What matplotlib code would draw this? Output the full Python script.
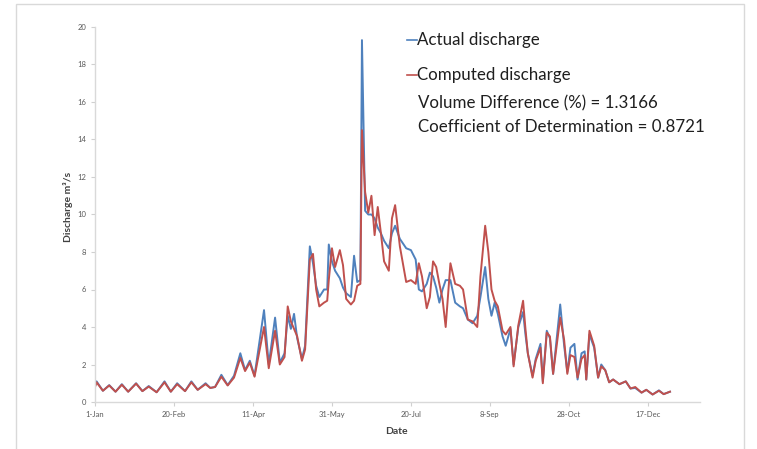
import matplotlib
matplotlib.use('Agg')
import matplotlib.pyplot as plt
from matplotlib.patches import Rectangle

plt.rcParams['font.family'] = ['Lato', 'DejaVu Sans']

# day of year (0 = 1-Jan), actual and computed discharge (m3/s)
days = [0, 1, 5, 9, 13, 17, 21, 26, 30, 34, 39, 44, 48, 52, 57, 61, 65, 70, 73, 76,
        80, 84, 88, 92, 95, 98, 101, 107, 110, 114, 117, 120, 122, 124, 126, 128, 131, 133,
        136, 138, 140, 142, 145, 147, 148, 150, 152, 155, 157, 159, 162, 164, 166, 168,
        169, 171, 173, 175, 177, 179, 181, 183, 186, 188, 190, 193, 197, 200, 203, 205,
        207, 210, 212, 214, 216, 218, 220, 222, 225, 228, 231, 233, 236, 239, 242, 244,
        247, 249, 251, 253, 255, 258, 260, 263, 265, 268, 271, 272.5, 274, 277, 279, 282,
        283.5, 286, 288, 290, 294.5, 297, 299, 301, 303.5, 305.5, 308, 310, 311, 313, 316,
        318.5, 320.5, 323, 325.5, 328, 332, 336, 339, 342, 346, 349, 353, 357, 360, 364]
actual = [0.85, 1.10, 0.60, 0.90, 0.55, 0.95, 0.55, 1.00, 0.58, 0.85, 0.52, 1.10, 0.55, 1.00,
          0.58, 1.10, 0.65, 1.00, 0.75, 0.80, 1.45, 0.90, 1.40, 2.60, 1.70, 2.20, 1.40, 4.90,
          2.00, 4.50, 2.10, 2.60, 4.60, 3.90, 4.70, 3.40, 2.30, 3.00, 8.30, 7.40, 6.20, 5.60,
          6.00, 6.00, 8.40, 7.50, 7.00, 6.60, 6.10, 5.80, 5.60, 7.80, 6.40, 6.50, 19.3, 10.2,
          10.0, 10.0, 9.80, 9.30, 9.00, 8.60, 8.20, 9.00, 9.40, 8.70, 8.20, 8.10, 7.60, 6.00,
          5.90, 6.30, 6.90, 6.70, 6.10, 5.30, 6.00, 6.50, 6.50, 5.30, 5.10, 5.00, 4.40, 4.20,
          4.60, 5.60, 7.20, 5.50, 4.60, 5.30, 4.70, 3.50, 3.00, 3.90, 2.00, 4.00, 4.80, 3.60,
          2.60, 1.40, 2.30, 3.10, 1.10, 3.80, 3.40, 1.50, 5.20, 3.00, 1.60, 2.90, 3.10, 1.20,
          2.60, 2.70, 1.20, 3.60, 2.90, 1.30, 2.00, 1.70, 1.05, 1.20, 0.95, 1.10, 0.72, 0.75,
          0.50, 0.65, 0.40, 0.62, 0.42, 0.55]
computed = [0.80, 1.05, 0.60, 0.88, 0.55, 0.92, 0.55, 0.98, 0.58, 0.82, 0.52, 1.05, 0.55, 0.95,
            0.58, 1.05, 0.65, 0.95, 0.75, 0.80, 1.35, 0.88, 1.30, 2.35, 1.65, 2.10, 1.35, 4.00,
            1.80, 3.80, 2.00, 2.40, 5.10, 4.30, 3.90, 3.50, 2.20, 2.80, 7.60, 7.90, 6.00, 5.10,
            5.30, 5.40, 6.50, 8.20, 7.20, 8.10, 7.30, 5.50, 5.20, 5.40, 6.20, 6.30, 14.5, 11.2,
            10.1, 11.0, 8.90, 10.4, 9.00, 7.50, 7.00, 9.80, 10.5, 8.30, 6.40, 6.50, 6.30, 7.40,
            6.70, 5.00, 5.60, 7.50, 7.20, 6.30, 5.50, 4.00, 7.40, 6.30, 6.20, 6.00, 4.40, 4.30,
            4.00, 6.70, 9.40, 8.00, 6.00, 5.40, 5.10, 3.80, 3.60, 4.00, 1.90, 4.10, 5.40, 3.90,
            2.60, 1.30, 2.20, 2.90, 1.00, 3.70, 3.50, 1.50, 4.50, 3.30, 1.50, 2.50, 2.40, 1.30,
            2.30, 2.50, 1.20, 3.80, 3.00, 1.30, 1.90, 1.70, 1.05, 1.20, 0.95, 1.10, 0.72, 0.80,
            0.50, 0.65, 0.40, 0.60, 0.42, 0.55]

tick_days = [0, 50, 100, 150, 200, 250, 300, 350]
tick_labels = ['1-Jan', '20-Feb', '11-Apr', '31-May', '20-Jul', '8-Sep', '28-Oct', '17-Dec']

fig = plt.figure(figsize=(7.57, 4.49), dpi=100)
fig.patches.append(Rectangle((16 / 757, -0.05), 728 / 757, 1.04, transform=fig.transFigure,
                             fill=False, edgecolor='#d9d9d9', linewidth=1.0))
ax = fig.add_axes([95 / 757, 47 / 449, 605 / 757, 375 / 449])

ax.plot(days, actual, color='#4f81bd', linewidth=1.4, label='Actual discharge')
ax.plot(days, computed, color='#c0504d', linewidth=1.4, label='Computed discharge')

ax.set_xlim(0, 383)
ax.set_ylim(0, 20)
ax.set_yticks(range(0, 21, 2))
ax.set_xticks(tick_days)
ax.set_xticklabels(tick_labels)
ax.tick_params(axis='both', labelsize=5.5, colors='#d0d0d0', labelcolor='#595959',
               length=3, width=0.8, direction='out')
for s in ['top', 'right']:
    ax.spines[s].set_visible(False)
for s in ['left', 'bottom']:
    ax.spines[s].set_color('#d9d9d9')
    ax.spines[s].set_linewidth(1.0)

fig.text(68 / 757, 1 - 207 / 449, 'Discharge m³/s', rotation=90, ha='center', va='center',
         fontsize=7.5, fontweight='bold', color='#404040')
fig.text(396 / 757, 1 - 432 / 449, 'Date', ha='center', va='center',
         fontsize=7.5, fontweight='bold', color='#404040')

# legend drawn as text with short line samples
leg_x = 407 / 757
for y, col, txt in [(40, '#4f81bd', 'Actual discharge'), (75, '#c0504d', 'Computed discharge')]:
    fig.lines.append(plt.Line2D([leg_x, leg_x + 10 / 757], [1 - y / 449] * 2,
                                transform=fig.transFigure, color=col, linewidth=1.2))
    fig.text(leg_x + 10 / 757, 1 - y / 449, txt, ha='left', va='center', fontsize=12.2,
             color='#1f1f1f')
fig.text(418 / 757, 1 - 103 / 449, 'Volume Difference (%) = 1.3166', ha='left', va='center',
         fontsize=12.2, color='#1f1f1f')
fig.text(418 / 757, 1 - 127 / 449, 'Coefficient of Determination = 0.8721', ha='left',
         va='center', fontsize=12.2, color='#1f1f1f')

fig.savefig('out.png', dpi=100)
